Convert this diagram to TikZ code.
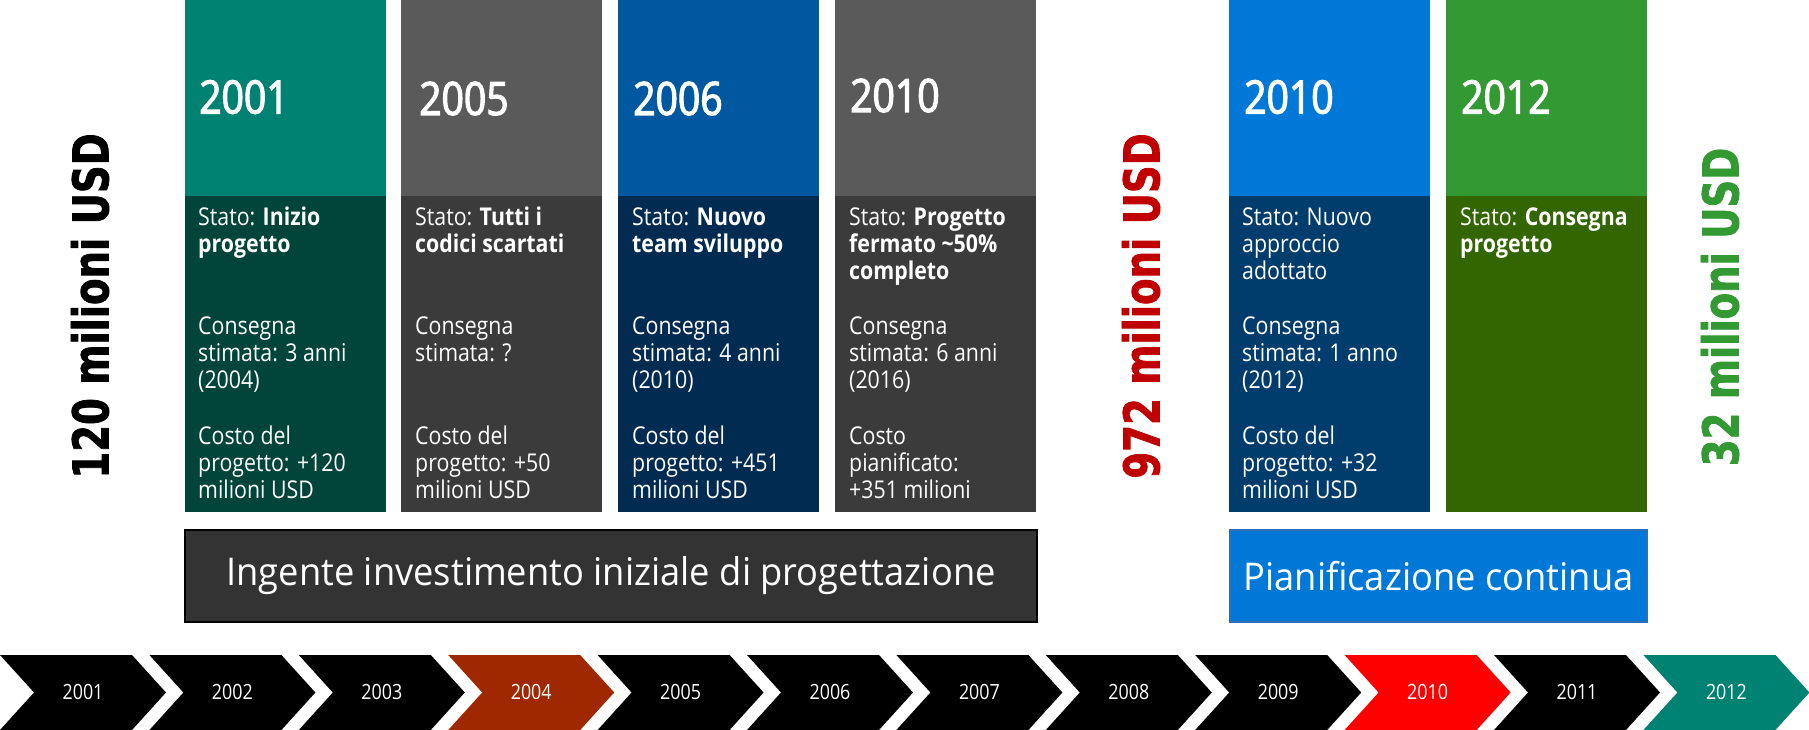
\documentclass[tikz,border=0pt]{standalone}
\usepackage{fontspec}
\setmainfont{Open Sans}
\newfontfamily\yearf[FakeStretch=0.85,FakeBold=2.5]{Open Sans}
\newfontfamily\bodyf[FakeStretch=0.87]{Open Sans}
\newfontfamily\bandf[FakeStretch=0.95]{Open Sans}
\newfontfamily\chevf[FakeStretch=0.85]{Open Sans}
\newfontfamily\bigf[FakeStretch=0.78,FakeBold=1.5]{DejaVu Sans}
\definecolor{tealA}{HTML}{008272}
\definecolor{tealB}{HTML}{00443A}
\definecolor{grayA}{HTML}{5A5A5A}
\definecolor{grayB}{HTML}{3B3B3B}
\definecolor{blueA}{HTML}{0059A0}
\definecolor{blueB}{HTML}{012B50}
\definecolor{azureA}{HTML}{0078D7}
\definecolor{azureB}{HTML}{003C6C}
\definecolor{greenA}{HTML}{339933}
\definecolor{greenB}{HTML}{336600}
\definecolor{bandgray}{HTML}{333333}
\definecolor{bandblueline}{HTML}{2F6EB5}
\definecolor{rust}{HTML}{A02800}
\definecolor{redtxt}{HTML}{C00000}
\begin{document}
\begin{tikzpicture}[x=1pt,y=-1pt,
  coltop/.style={fill=#1, anchor=north west, minimum width=201pt, minimum height=196pt, inner sep=0pt, outer sep=0pt},
  colbot/.style={fill=#1, anchor=north west, minimum width=201pt, minimum height=316pt, inner sep=0pt, outer sep=0pt},
  yeartxt/.style={font=\yearf\fontsize{46}{50}\selectfont, text=white, inner sep=0pt, anchor=base west},
  bodytxt/.style={font=\bodyf\fontsize{24.5}{27.3}\selectfont, text=white, inner sep=0pt, align=left, anchor=base west},
  bandbox/.style={minimum height=92pt, inner sep=0pt, text=white, font=\bandf\fontsize{38.2}{40}\selectfont},
  chevtxt/.style={font=\chevf\fontsize{21}{24}\selectfont, text=white, inner sep=0pt},
  bigtxt/.style={rotate=90, font=\bigf\bfseries\fontsize{49.4}{52}\selectfont, inner sep=0pt}
]
\useasboundingbox (0,0) rectangle (1809,730);
\fill[white] (0,0) rectangle (1809,730);

% columns
\node[coltop=tealA] (t1) at (185,0) {};
\node[colbot=tealB] (b1) at (185,196) {};
\node[coltop=grayA] (t2) at (401,0) {};
\node[colbot=grayB] (b2) at (401,196) {};
\node[coltop=blueA] (t3) at (618,0) {};
\node[colbot=blueB] (b3) at (618,196) {};
\node[coltop=grayA] (t4) at (835,0) {};
\node[colbot=grayB] (b4) at (835,196) {};
\node[coltop=azureA] (t5) at (1229,0) {};
\node[colbot=azureB] (b5) at (1229,196) {};
\node[coltop=greenA] (t6) at (1446,0) {};
\node[colbot=greenB] (b6) at (1446,196) {};

% years
\node[yeartxt] (y1) at (199,113.5) {2001};
\node[yeartxt] (y2) at (419,115) {2005};
\node[yeartxt] (y3) at (633,115) {2006};
\node[yeartxt] (y4) at (850,112) {2010};
\node[yeartxt] (y5) at (1244,113.5) {2010};
\node[yeartxt] (y6) at (1461,113.5) {2012};

% body texts (node base = baseline of last line)
\node[bodytxt] (s1) at (198,252.3) {Stato: \textbf{Inizio}\\\textbf{progetto}};
\node[bodytxt] (d1) at (198,388.6) {Consegna\\stimata: 3 anni\\(2004)};
\node[bodytxt] (k1) at (198,498.6) {Costo del\\progetto: +120\\milioni USD};

\node[bodytxt] (s2) at (415,252.3) {Stato: \textbf{Tutti i}\\\textbf{codici scartati}};
\node[bodytxt] (d2) at (415,361.3) {Consegna\\stimata: ?};
\node[bodytxt] (k2) at (415,498.6) {Costo del\\progetto: +50\\milioni USD};

\node[bodytxt] (s3) at (632,252.3) {Stato: \textbf{Nuovo}\\\textbf{team sviluppo}};
\node[bodytxt] (d3) at (632,388.6) {Consegna\\stimata: 4 anni\\(2010)};
\node[bodytxt] (k3) at (632,498.6) {Costo del\\progetto: +451\\milioni USD};

\node[bodytxt] (s4) at (849,279.6) {Stato: \textbf{Progetto}\\\textbf{fermato \textasciitilde50\%}\\\textbf{completo}};
\node[bodytxt] (d4) at (849,388.6) {Consegna\\stimata: 6 anni\\(2016)};
\node[bodytxt] (k4) at (849,498.6) {Costo\\pianificato:\\+351 milioni};

\node[bodytxt] (s5) at (1242,279.6) {Stato: Nuovo\\approccio\\adottato};
\node[bodytxt] (d5) at (1242,388.6) {Consegna\\stimata: 1 anno\\(2012)};
\node[bodytxt] (k5) at (1242,498.6) {Costo del\\progetto: +32\\milioni USD};

\node[bodytxt] (s6) at (1460,252.3) {Stato: \textbf{Consegna}\\\textbf{progetto}};

% vertical totals
\node[bigtxt, text=black] (v1) at (90,306) {120 milioni USD};
\node[bigtxt, text=redtxt] (v2) at (1141,306) {972 milioni USD};
\node[bigtxt, text=greenA] (v3) at (1720,307) {32 milioni USD};

% bands
\node[bandbox, fill=bandgray, draw=black, line width=1.5pt, minimum width=852pt] (band1) at (611,576) {Ingente investimento iniziale di progettazione};
\node[bandbox, fill=azureA, draw=bandblueline, line width=1.2pt, minimum width=417pt] (band2) at (1438.5,576) {Pianificazione continua};

% timeline chevrons
\foreach \yr/\col [count=\i from 0] in {2001/black,2002/black,2003/black,2004/rust,2005/black,2006/black,2007/black,2008/black,2009/black,2010/red,2011/black,2012/tealA}{
  \pgfmathsetmacro\xo{\i*149.4}
  \fill[\col] (\xo,655) -- ++(132,0) -- ++(34,37.5) -- ++(-34,37.5) -- ++(-132,0) -- ++(34,-37.5) -- cycle;
  \node[chevtxt] (ch\yr) at (\xo+83,692) {\yr};
}
\end{tikzpicture}
\end{document}
